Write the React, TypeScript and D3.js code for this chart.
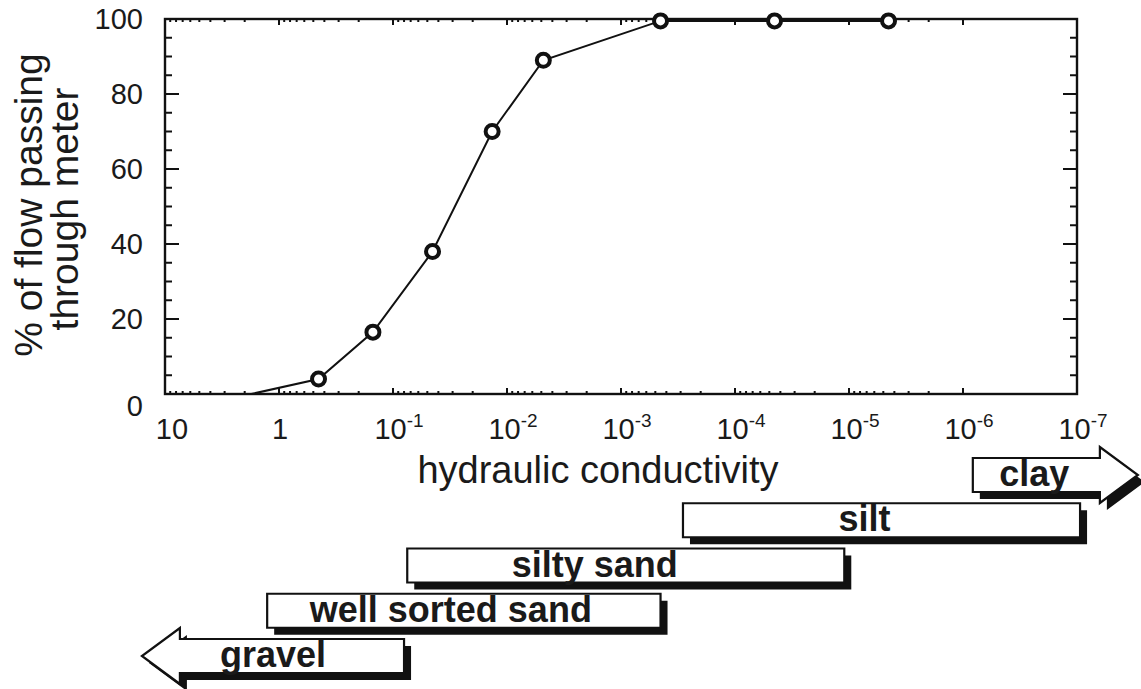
import React from 'react';
import * as d3 from 'd3';

// Flow-meter response curve: share of flow registered vs. hydraulic conductivity
const conductivity = [1.75, 0.45, 0.15, 0.045, 0.0135, 0.0048, 4.5e-4, 4.5e-5, 4.5e-6];
const percentPassing = [0, 4, 16.5, 38, 70, 89, 99.5, 99.5, 99.5];
// first entry is where the curve leaves the axis (drawn without a marker)
const firstMarked = 1;

const decadeExponents = [1, 0, -1, -2, -3, -4, -5, -6, -7];
const percentTicks = [0, 20, 40, 60, 80, 100];

// Typical conductivity ranges of soil classes (fine end, coarse end)
const soilNames = ['clay', 'silt', 'silty sand', 'well sorted sand', 'gravel'];
const soilFine = [6.3e-8, 9.4e-8, 1.1e-5, 4.5e-4, 0.08];
const soilCoarse = [8.2e-7, 2.86e-4, 0.075, 1.27, 7.4];
// open-ended classes are drawn as arrows
const soilArrow = ['fine', 'none', 'none', 'none', 'coarse'];

const W = 1141;
const H = 689;
const FONT = "'Liberation Sans', Arial, Helvetica, sans-serif";

const x = d3.scaleLog().domain([10, 1e-7]).range([165, 1077]);
const y = d3.scaleLinear().domain([0, 100]).range([394, 19]);

// soil bar layout
const rowTop0 = 458;
const rowStep = 45.25;
const rowH = 34;
const shadow = 7;
const headLen = 38;
const headFlare = 11;
const labelShift = [-2, -17, -31, -13, -19];

function soilShape(i: number): string {
  const top = rowTop0 + i * rowStep;
  const bot = top + rowH;
  const mid = (top + bot) / 2;
  const left = x(soilCoarse[i]);
  const right = x(soilFine[i]);
  const p = d3.path();
  if (soilArrow[i] === 'fine') {
    p.moveTo(left, top);
    p.lineTo(right, top);
    p.lineTo(right, top - headFlare);
    p.lineTo(right + headLen, mid);
    p.lineTo(right, bot + headFlare);
    p.lineTo(right, bot);
    p.lineTo(left, bot);
    p.closePath();
  } else if (soilArrow[i] === 'coarse') {
    p.moveTo(right, top);
    p.lineTo(left, top);
    p.lineTo(left, top - headFlare);
    p.lineTo(left - headLen, mid);
    p.lineTo(left, bot + headFlare);
    p.lineTo(left, bot);
    p.lineTo(right, bot);
    p.closePath();
  } else {
    p.rect(left, top, right - left, rowH);
  }
  return p.toString();
}

export default function App() {
  const line = d3
    .line<number>()
    .x((_, i) => x(conductivity[i]))
    .y((d) => y(d));

  const minorPercent = d3.range(0, 101, 5).filter((v) => v % 20 !== 0);

  const minorK: number[] = [];
  for (let e = 0; e > -7; e--) {
    for (let m = 2; m <= 9; m++) minorK.push(m * Math.pow(10, e));
  }
  const majorK = decadeExponents.map((e) => Math.pow(10, e));

  const x0 = x.range()[0];
  const x1 = x.range()[1];
  const yTop = y(100);
  const yBot = y(0);

  return (
    <svg
      width={W}
      height={H}
      viewBox={`0 0 ${W} ${H}`}
      style={{ position: 'absolute', left: 0, top: 0, background: '#fff' }}
      fontFamily={FONT}
    >
      <rect x={0} y={0} width={W} height={H} fill="#fff" />

      {/* percent ticks, inward on both sides */}
      <g stroke="#111" strokeWidth={2}>
        {percentTicks.map((v) => (
          <g key={`py${v}`}>
            <line x1={x0} x2={x0 + 14} y1={y(v)} y2={y(v)} />
            <line x1={x1} x2={x1 - 14} y1={y(v)} y2={y(v)} />
          </g>
        ))}
        {minorPercent.map((v) => (
          <g key={`my${v}`}>
            <line x1={x0} x2={x0 + 7} y1={y(v)} y2={y(v)} />
            <line x1={x1} x2={x1 - 7} y1={y(v)} y2={y(v)} />
          </g>
        ))}
        {majorK.map((k) => (
          <g key={`kx${k}`}>
            <line x1={x(k)} x2={x(k)} y1={yBot} y2={yBot - 6} />
            <line x1={x(k)} x2={x(k)} y1={yTop} y2={yTop + 6} />
          </g>
        ))}
        {minorK.map((k) => (
          <g key={`mx${k}`}>
            <line x1={x(k)} x2={x(k)} y1={yBot} y2={yBot - 3} />
            <line x1={x(k)} x2={x(k)} y1={yTop} y2={yTop + 3} />
          </g>
        ))}
      </g>

      {/* curve */}
      <path d={line(percentPassing) || ''} fill="none" stroke="#111" strokeWidth={2} />

      {/* frame */}
      <rect
        x={x0}
        y={yTop}
        width={x1 - x0}
        height={yBot - yTop}
        fill="none"
        stroke="#111"
        strokeWidth={2.4}
      />

      {percentPassing.map((v, i) =>
        i < firstMarked ? null : (
          <circle
            key={`pt${i}`}
            cx={x(conductivity[i])}
            cy={y(v)}
            r={6.5}
            fill="#fff"
            stroke="#111"
            strokeWidth={4}
          />
        )
      )}

      {/* percent labels */}
      <g fontSize={29} fill="#1a1a1a" textAnchor="end">
        {percentTicks.map((v) => (
          <text key={`lp${v}`} x={143} y={y(v) + (v === 0 ? 12 : 0)} dy="0.36em">
            {v}
          </text>
        ))}
      </g>

      {/* conductivity labels */}
      <g fontSize={29} fill="#1a1a1a" textAnchor="middle">
        {decadeExponents.map((e) => {
          const k = Math.pow(10, e);
          if (e === 1) return <text key={`lk${e}`} x={x(k) + 7} y={439}>10</text>;
          if (e === 0) return <text key={`lk${e}`} x={x(k) + 1} y={439}>1</text>;
          return (
            <text key={`lk${e}`} x={x(k) + 6} y={439}>
              10
              <tspan fontSize={19} dy={-12}>{`-${-e}`}</tspan>
            </text>
          );
        })}
      </g>

      <text x={598} y={483} fontSize={38} fill="#1a1a1a" textAnchor="middle">
        hydraulic conductivity
      </text>

      <g fontSize={39} fill="#1a1a1a" textAnchor="middle">
        <text transform="translate(42,205) rotate(-90)">% of flow passing</text>
        <text transform="translate(78,209) rotate(-90)">through meter</text>
      </g>

      {/* soil class ranges */}
      {soilNames.map((name, i) => {
        const d = soilShape(i);
        const top = rowTop0 + i * rowStep;
        const cx = (x(soilCoarse[i]) + x(soilFine[i])) / 2 + labelShift[i];
        return (
          <g key={name}>
            <path d={d} transform={`translate(${shadow},${shadow})`} fill="#111" />
            <path d={d} fill="#fff" stroke="#111" strokeWidth={2.2} strokeLinejoin="miter" />
            <text
              x={cx}
              y={top + rowH - 6}
              fontSize={36}
              fontWeight="bold"
              fill="#1a1a1a"
              textAnchor="middle"
            >
              {name}
            </text>
          </g>
        );
      })}
    </svg>
  );
}
